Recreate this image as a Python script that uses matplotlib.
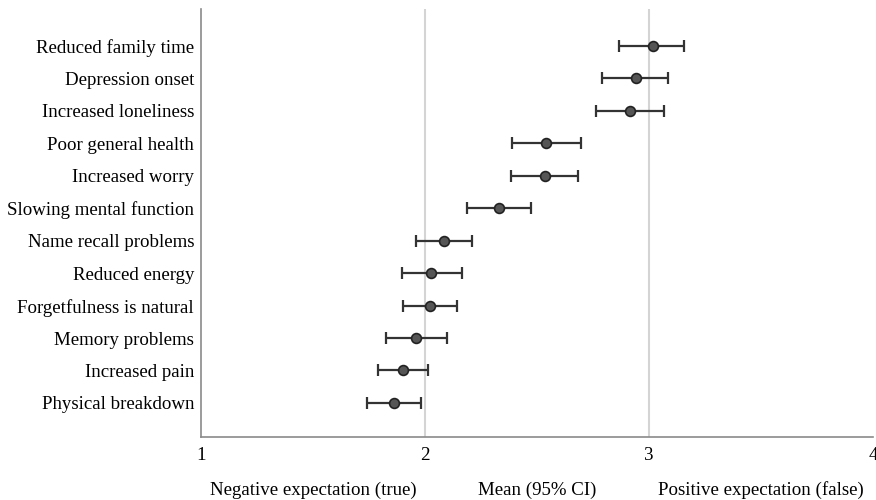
import matplotlib.pyplot as plt
import matplotlib.transforms as mtransforms

plt.rcParams["font.family"] = ["Liberation Serif", "DejaVu Serif"]

# items from top to bottom
items = [
    "Reduced family time",
    "Depression onset",
    "Increased loneliness",
    "Poor general health",
    "Increased worry",
    "Slowing mental function",
    "Name recall problems",
    "Reduced energy",
    "Forgetfulness is natural",
    "Memory problems",
    "Increased pain",
    "Physical breakdown",
]
means = [3.02, 2.94, 2.915, 2.542, 2.535, 2.331, 2.085, 2.029, 2.022, 1.962, 1.90, 1.863]
ci_low = [2.866, 2.79, 2.763, 2.387, 2.384, 2.189, 1.96, 1.896, 1.904, 1.828, 1.79, 1.743]
ci_high = [3.156, 3.085, 3.065, 2.697, 2.682, 2.472, 2.208, 2.163, 2.141, 2.097, 2.012, 1.984]

x_ticks = [1, 2, 3, 4]
bottom_labels = ["Negative expectation (true)", "Mean (95% CI)", "Positive expectation (false)"]
bottom_pos = [1.5, 2.5, 3.5]

fig = plt.figure(figsize=(8.76, 5), dpi=100)
ax = fig.add_axes([201 / 876, 1 - 437 / 500, 672 / 876, 428 / 500])

ys = list(range(len(items)))
err = [[m - lo for m, lo in zip(means, ci_low)], [hi - m for m, hi in zip(means, ci_high)]]

for gx in [2, 3]:
    ax.axvline(gx, color="#d4d4d4", lw=1.5, zorder=0)

ax.errorbar(means, ys, xerr=err, fmt="none", ecolor="#333333", elinewidth=1.6,
            capsize=4, capthick=1.6, zorder=2)
ax.scatter(means, ys, s=50, color="#555555", edgecolor="#222222", linewidth=1.2, zorder=3)

ax.set_xlim(1, 4)
ax.set_ylim(12.05, -1.14)
ax.set_yticks(ys)
ax.set_yticklabels(items, fontsize=13.6)
ax.set_xticks(x_ticks)
ax.set_xticklabels([str(t) for t in x_ticks], fontsize=13.6)
ax.tick_params(axis="both", length=0)
ax.tick_params(axis="x", pad=7)
ax.tick_params(axis="y", pad=5)

for side in ["top", "right"]:
    ax.spines[side].set_visible(False)
for side in ["left", "bottom"]:
    ax.spines[side].set_color("#8a8a8a")
    ax.spines[side].set_linewidth(1.2)

trans = mtransforms.blended_transform_factory(ax.transData, fig.transFigure)
for lbl, px in zip(bottom_labels, bottom_pos):
    ax.text(px, 1 - 490 / 500, lbl, transform=trans, ha="center", va="center", fontsize=13.6)

fig.savefig("out.png", dpi=100)
